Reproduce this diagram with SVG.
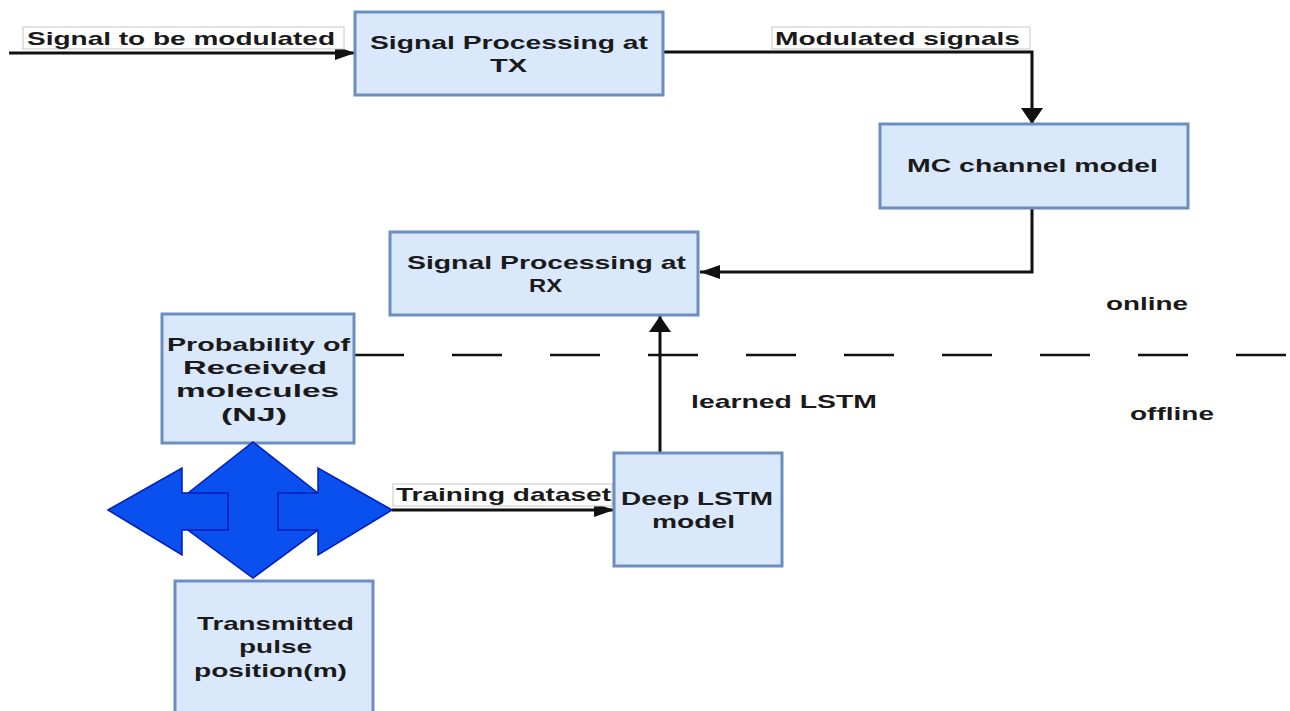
<svg xmlns="http://www.w3.org/2000/svg" width="1290" height="711" viewBox="0 0 1290 711">
<style>
.box{fill:#dae8fc;stroke:#6c8ebf;stroke-width:3}
.t{font-family:"Liberation Sans",Arial,sans-serif;font-weight:bold;font-size:19px;fill:#1a1a1a}
.lbl{fill:#ffffff;stroke:#c8c8c8;stroke-width:1}
.edge{fill:none;stroke:#111111;stroke-width:3}
.blue{fill:#0a50ee;stroke:#001dbc;stroke-width:1.5;stroke-linejoin:miter}
</style>
<defs>
<marker id="ah" markerUnits="userSpaceOnUse" markerWidth="22" markerHeight="16" refX="20" refY="8" orient="auto">
<path d="M0,1 L20,8 L0,15 Z" fill="#111111"/>
</marker>
<marker id="av" markerUnits="userSpaceOnUse" markerWidth="18" markerHeight="24" refX="16" refY="12" orient="auto">
<path d="M0,1 L16,12 L0,23 Z" fill="#111111"/>
</marker>
</defs>
<rect width="1290" height="711" fill="#ffffff"/>

<g id="connectors">
<path class="edge" d="M9,53 L355,53" marker-end="url(#ah)"/>
<path class="edge" d="M663,52 L1032,52 L1032,124" marker-end="url(#av)"/>
<path class="edge" d="M1032,208 L1032,272 L700,272" marker-end="url(#ah)"/>
<path class="edge" d="M660,453 L660,316" marker-end="url(#av)"/>
<path class="edge" d="M392,510 L614,510" marker-end="url(#ah)"/>
<path d="M354,355 L1290,355" fill="none" stroke="#111111" stroke-width="2.5" stroke-dasharray="50,48"/>
</g>

<g id="label-signal-in">
<rect class="lbl" x="23" y="27" width="321" height="22"/>
<text class="t" x="27" y="45" textLength="308" lengthAdjust="spacingAndGlyphs">Signal to be modulated</text>
</g>
<g id="label-modulated">
<rect class="lbl" x="772" y="27" width="258" height="22"/>
<text class="t" x="775" y="45" textLength="245" lengthAdjust="spacingAndGlyphs">Modulated signals</text>
</g>
<g id="label-training">
<rect class="lbl" x="393" y="484" width="219" height="22"/>
<text class="t" x="396" y="501" textLength="215" lengthAdjust="spacingAndGlyphs">Training dataset</text>
</g>

<g id="node-tx">
<rect class="box" x="355" y="12" width="308" height="83"/>
<text class="t" x="370" y="49" textLength="278" lengthAdjust="spacingAndGlyphs">Signal Processing at</text>
<text class="t" x="490" y="72" textLength="37" lengthAdjust="spacingAndGlyphs">TX</text>
</g>

<g id="node-mc">
<rect class="box" x="880" y="124" width="308" height="84"/>
<text class="t" x="907" y="172" textLength="251" lengthAdjust="spacingAndGlyphs">MC channel model</text>
</g>

<g id="node-rx">
<rect class="box" x="390" y="232" width="308" height="83"/>
<text class="t" x="407" y="269" textLength="279" lengthAdjust="spacingAndGlyphs">Signal Processing at</text>
<text class="t" x="529" y="292" textLength="33" lengthAdjust="spacingAndGlyphs">RX</text>
</g>

<g id="node-prob">
<rect class="box" x="162" y="314" width="192" height="129"/>
<text class="t" x="167" y="351" textLength="183" lengthAdjust="spacingAndGlyphs">Probability of</text>
<text class="t" x="183" y="374" textLength="144" lengthAdjust="spacingAndGlyphs">Received</text>
<text class="t" x="176" y="397" textLength="163" lengthAdjust="spacingAndGlyphs">molecules</text>
<text class="t" x="221" y="421" textLength="66" lengthAdjust="spacingAndGlyphs">(NJ)</text>
</g>

<g id="node-quadarrow">
<polygon class="blue" points="253,442 318,493 318,530 253,578 188,530 188,493"/>
<polygon class="blue" points="108,510 182,468 182,493 228,493 228,530 182,530 182,555"/>
<polygon class="blue" points="392,510 318,468 318,493 278,493 278,530 318,530 318,555"/>
</g>

<g id="node-deep">
<rect class="box" x="614" y="453" width="168" height="113"/>
<text class="t" x="621" y="505" textLength="152" lengthAdjust="spacingAndGlyphs">Deep LSTM</text>
<text class="t" x="652" y="528" textLength="83" lengthAdjust="spacingAndGlyphs">model</text>
</g>

<g id="node-tx-pulse">
<rect class="box" x="175" y="581" width="198" height="140"/>
<text class="t" x="197" y="630" textLength="157" lengthAdjust="spacingAndGlyphs">Transmitted</text>
<text class="t" x="239" y="653" textLength="73" lengthAdjust="spacingAndGlyphs">pulse</text>
<text class="t" x="194" y="677" textLength="153" lengthAdjust="spacingAndGlyphs">position(m)</text>
</g>

<g id="texts">
<text class="t" x="1106" y="310" textLength="82" lengthAdjust="spacingAndGlyphs">online</text>
<text class="t" x="1130" y="420" textLength="84" lengthAdjust="spacingAndGlyphs">offline</text>
<text class="t" x="691" y="408" textLength="186" lengthAdjust="spacingAndGlyphs">learned LSTM</text>
</g>
</svg>
